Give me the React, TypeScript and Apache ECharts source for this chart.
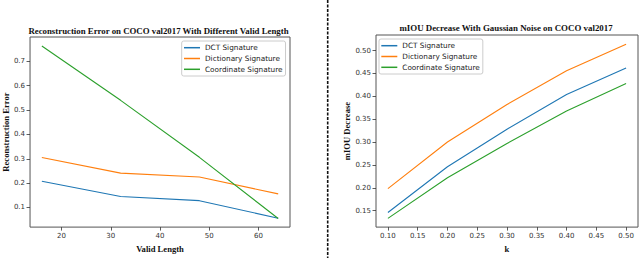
import React, { useEffect, useRef } from "react";
import * as echarts from "echarts";

const seriesNames = ["DCT Signature", "Dictionary Signature", "Coordinate Signature"];
const colors = ["#1f77b4", "#ff7f0e", "#2ca02c"];

// Left chart: reconstruction error vs valid length
const validLength = [16, 32, 48, 64];
const dctError = [0.208, 0.145, 0.128, 0.056];
const dictError = [0.305, 0.241, 0.225, 0.156];
const coordError = [0.763, 0.54, 0.306, 0.055];
const leftXTicks = [20, 30, 40, 50, 60];
const leftYTicks = [0.1, 0.2, 0.3, 0.4, 0.5, 0.6, 0.7];

// Right chart: mIOU decrease vs k
const kValues = [0.1, 0.2, 0.3, 0.4, 0.5];
const dctMiou = [0.146, 0.246, 0.328, 0.404, 0.462];
const dictMiou = [0.198, 0.3, 0.382, 0.456, 0.514];
const coordMiou = [0.133, 0.222, 0.297, 0.368, 0.428];
const rightXTicks = [0.1, 0.15, 0.2, 0.25, 0.3, 0.35, 0.4, 0.45, 0.5];
const rightYTicks = [0.15, 0.2, 0.25, 0.3, 0.35, 0.4, 0.45, 0.5];

const tickFont = { fontFamily: "DejaVu Sans", fontSize: 7, color: "#333" };
const nameFont = { fontFamily: "Liberation Serif", fontWeight: "bold" as const, fontSize: 8.6, color: "#111" };

function pairs(xs: number[], ys: number[]) {
  return xs.map((x, i) => [x, ys[i]]);
}

export default function App() {
  const ref = useRef<HTMLDivElement>(null);
  useEffect(() => {
    if (!ref.current) return;
    const chart = echarts.init(ref.current, undefined, { renderer: "svg" });
    const axisCommon = {
      axisLine: { show: false },
      splitLine: { show: false },
      axisTick: { show: true, length: 3.5, lineStyle: { color: "#333", width: 0.8 } },
    };
    const legendCommon = {
      orient: "vertical" as const,
      data: seriesNames,
      icon: "rect",
      itemWidth: 16,
      itemHeight: 1.5,
      itemGap: 1.8,
      borderColor: "#ccc",
      borderWidth: 1,
      borderRadius: 2,
      backgroundColor: "rgba(255,255,255,0.8)",
      padding: [2.2, 3, 2.2, 2.3],
      textStyle: { fontFamily: "DejaVu Sans", fontSize: 7.3, color: "#222", lineHeight: 9 },
      selectedMode: false,
    };
    const mkSeries = (name: string, data: number[][], color: string, xi: number) => ({
      type: "line",
      name,
      data,
      xAxisIndex: xi,
      yAxisIndex: xi,
      symbol: "none",
      lineStyle: { color, width: 1.1 },
      itemStyle: { color },
    });
    chart.setOption({
      animation: false,
      backgroundColor: "#fff",
      title: [
        {
          text: "Reconstruction Error on COCO val2017 With Different Valid Length",
          left: 158.5,
          textAlign: "center",
          top: 25.7,
          padding: 0,
          textStyle: { ...nameFont, fontSize: 8.8, lineHeight: 10 },
        },
        {
          text: "mIOU Decrease With Gaussian Noise on COCO val2017",
          left: 506,
          textAlign: "center",
          top: 23,
          padding: 0,
          textStyle: { ...nameFont, fontSize: 8.9, lineHeight: 10 },
        },
      ],
      legend: [
        { ...legendCommon, left: 181.7, top: 41 },
        { ...legendCommon, left: 379, top: 39 },
      ],
      grid: [
        { left: 29, right: 350, top: 37, bottom: 26, show: true, borderColor: "#555", borderWidth: 1, backgroundColor: "transparent" },
        { left: 376, right: 2, top: 35, bottom: 29, show: true, borderColor: "#555", borderWidth: 1, backgroundColor: "transparent" },
      ],
      xAxis: [
        {
          ...axisCommon,
          type: "value",
          gridIndex: 0,
          min: 13.6,
          max: 66.4,
          name: "Valid Length",
          nameLocation: "middle",
          nameGap: 13,
          nameTextStyle: nameFont,
          axisTick: { ...axisCommon.axisTick, customValues: leftXTicks },
          axisLabel: { ...tickFont, margin: 5, customValues: leftXTicks, formatter: (v: number) => String(v) },
        },
        {
          ...axisCommon,
          type: "value",
          gridIndex: 1,
          min: 0.08,
          max: 0.52,
          name: "k",
          nameLocation: "middle",
          nameGap: 12,
          nameTextStyle: nameFont,
          axisTick: { ...axisCommon.axisTick, customValues: rightXTicks },
          axisLabel: { ...tickFont, margin: 5, customValues: rightXTicks, formatter: (v: number) => v.toFixed(2) },
        },
      ],
      yAxis: [
        {
          ...axisCommon,
          type: "value",
          gridIndex: 0,
          min: 0.0195,
          max: 0.8,
          name: "Reconstruction Error",
          nameLocation: "middle",
          nameGap: 19.5,
          nameTextStyle: nameFont,
          axisTick: { ...axisCommon.axisTick, customValues: leftYTicks },
          axisLabel: { ...tickFont, margin: 5, customValues: leftYTicks, formatter: (v: number) => v.toFixed(1) },
        },
        {
          ...axisCommon,
          type: "value",
          gridIndex: 1,
          min: 0.114,
          max: 0.534,
          name: "mIOU Decrease",
          nameLocation: "middle",
          nameGap: 24.5,
          nameTextStyle: nameFont,
          axisTick: { ...axisCommon.axisTick, customValues: rightYTicks },
          axisLabel: { ...tickFont, margin: 5, customValues: rightYTicks, formatter: (v: number) => v.toFixed(2) },
        },
      ],
      series: [
        mkSeries(seriesNames[0], pairs(validLength, dctError), colors[0], 0),
        mkSeries(seriesNames[1], pairs(validLength, dictError), colors[1], 0),
        mkSeries(seriesNames[2], pairs(validLength, coordError), colors[2], 0),
        mkSeries(seriesNames[0], pairs(kValues, dctMiou), colors[0], 1),
        mkSeries(seriesNames[1], pairs(kValues, dictMiou), colors[1], 1),
        mkSeries(seriesNames[2], pairs(kValues, coordMiou), colors[2], 1),
      ],
      graphic: [
        {
          type: "line",
          shape: { x1: 327.7, y1: 0, x2: 327.7, y2: 258 },
          style: { stroke: "#111", lineWidth: 1.6, lineDash: [3, 1.5] },
          silent: true,
        },
      ],
    });
    return () => chart.dispose();
  }, []);
  return <div ref={ref} style={{ position: "fixed", left: 0, top: 0, width: 640, height: 258 }} />;
}
